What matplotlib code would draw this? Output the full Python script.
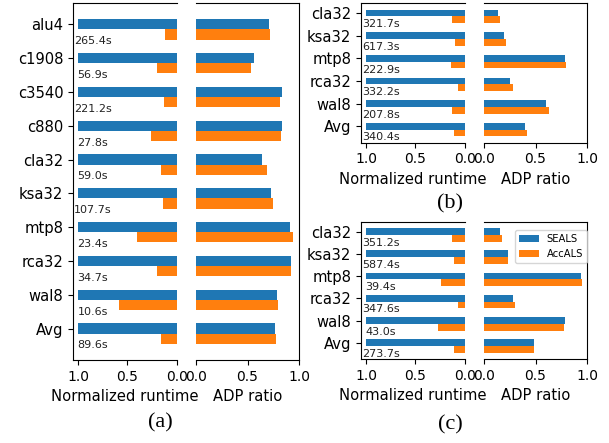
import matplotlib
matplotlib.use("Agg")
import matplotlib.pyplot as plt
import numpy as np

# ---------------- data ----------------
cats_a = ["alu4", "c1908", "c3540", "c880", "cla32", "ksa32", "mtp8", "rca32", "wal8", "Avg"]
rt_seals_a = [1.0] * 10
rt_accals_a = [0.12, 0.20, 0.13, 0.265, 0.163, 0.143, 0.408, 0.204, 0.582, 0.163]
adp_seals_a = [0.708, 0.562, 0.834, 0.834, 0.640, 0.727, 0.912, 0.922, 0.786, 0.766]
adp_accals_a = [0.718, 0.532, 0.815, 0.825, 0.688, 0.747, 0.942, 0.922, 0.795, 0.776]
time_a = ["265.4s", "56.9s", "221.2s", "27.8s", "59.0s", "107.7s", "23.4s", "34.7s", "10.6s", "89.6s"]

cats_b = ["cla32", "ksa32", "mtp8", "rca32", "wal8", "Avg"]
rt_seals_b = [1.0] * 6
rt_accals_b = [0.133, 0.102, 0.143, 0.071, 0.133, 0.112]
adp_seals_b = [0.133, 0.191, 0.783, 0.249, 0.599, 0.395]
adp_accals_b = [0.152, 0.210, 0.793, 0.278, 0.628, 0.414]
time_b = ["321.7s", "617.3s", "222.9s", "332.2s", "207.8s", "340.4s"]

cats_c = ["cla32", "ksa32", "mtp8", "rca32", "wal8", "Avg"]
rt_seals_c = [1.0] * 6
rt_accals_c = [0.133, 0.112, 0.245, 0.071, 0.276, 0.112]
adp_seals_c = [0.159, 0.237, 0.938, 0.286, 0.782, 0.481]
adp_accals_c = [0.179, 0.237, 0.948, 0.305, 0.773, 0.490]
time_c = ["351.2s", "587.4s", "39.4s", "347.6s", "43.0s", "273.7s"]

series_names = ["SEALS", "AccALS"]
BLUE = "#1f77b4"
ORANGE = "#ff7f0e"

W, H = 609, 443
fig = plt.figure(figsize=(W / 100, H / 100), dpi=100)


def px_axes(x0, x1, y0, y1):
    return fig.add_axes([x0 / W, 1 - y1 / H, (x1 - x0) / W, (y1 - y0) / H])


def panel(boxL, boxR, cats, rt_s, rt_a, adp_s, adp_a, times, legend=False):
    axL = px_axes(*boxL)
    axR = px_axes(*boxR)
    y = np.arange(len(cats))
    h = 0.3
    axL.barh(y, rt_s, height=h, color=BLUE)
    axL.barh(y + h, rt_a, height=h, color=ORANGE)
    bS = axR.barh(y, adp_s, height=h, color=BLUE, label=series_names[0])
    bA = axR.barh(y + h, adp_a, height=h, color=ORANGE, label=series_names[1])
    for yi, t in zip(y, times):
        axL.text(0.85, yi + 0.5, t, ha="center", va="center", fontsize=8, color="#222222")
    axL.set_xlim(1.05, 0)
    axR.set_xlim(0, 1.0)
    for ax in (axL, axR):
        ax.invert_yaxis()
        ax.set_xticks([0, 0.5, 1.0])
        ax.set_xticklabels(["0.0", "0.5", "1.0"])
        ax.tick_params(axis="x", labelsize=10)
    axR.set_ylim(axL.get_ylim())
    axL.set_yticks(y)
    axL.set_yticklabels(cats, fontsize=10.6)
    axR.set_yticks([])
    axL.spines["right"].set_visible(False)
    axR.spines["left"].set_visible(False)
    axL.set_xlabel("Normalized runtime", fontsize=10.6)
    axR.set_xlabel("ADP ratio", fontsize=10.6)
    if legend:
        axR.legend(handles=[bS, bA], loc="upper right", bbox_to_anchor=(1.0, 0.942),
                   borderaxespad=0, fontsize=7.2)
    return axL, axR


panel((73, 177, 3, 360), (196, 299, 3, 360), cats_a, rt_seals_a, rt_accals_a,
      adp_seals_a, adp_accals_a, time_a)
panel((361, 465, 3.3, 142.7), (484, 587, 3.3, 142.7), cats_b, rt_seals_b, rt_accals_b,
      adp_seals_b, adp_accals_b, time_b)
panel((361, 465, 222, 359), (484, 587, 222, 359), cats_c, rt_seals_c, rt_accals_c,
      adp_seals_c, adp_accals_c, time_c, legend=True)

for lab, x, yy in [("(a)", 160, 423), ("(b)", 450, 204), ("(c)", 450, 425)]:
    fig.text(x / W, 1 - yy / H, lab, ha="center", va="center",
             family="Liberation Serif", fontsize=16)

fig.savefig("out.png", dpi=100)
